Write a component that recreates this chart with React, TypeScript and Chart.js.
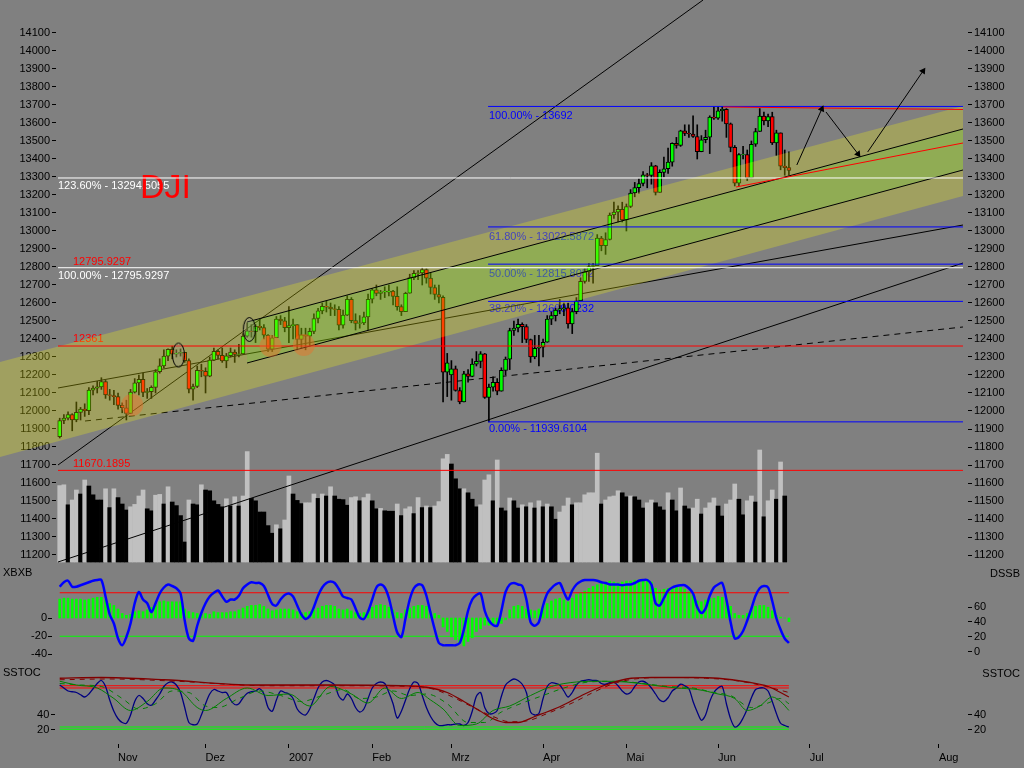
import React, { useEffect, useRef } from 'react';
import { Chart, registerables } from 'chart.js';
Chart.register(...registerables);

// ---------- axis ranges (index units / value units) ----------
const X_MIN = -14.33, X_MAX = 217.98;
const P_MIN = 10150, P_MAX = 14283.3;
const PR_MIN = 11138.9;
const V_MIN = -455, V_MAX = 1405;
const XB_MIN = -140, XB_MAX = 686.7;
const DSR_MIN = -10.67, DSR_MAX = 114.67;
const SS_MIN = 1.33, SS_MAX = 993.3, SSR_MAX = 113.33;
const PANEL_WEIGHTS = [566, 94, 84];

// ---------- data ----------
const MONTH_TICKS = [14, 35, 55, 75, 94, 116, 136, 158, 180, 211];
const MONTH_LABELS = ['Nov', 'Dez', '2007', 'Feb', 'Mrz', 'Apr', 'Mai', 'Jun', 'Jul', 'Aug'];
const PRICE_TICKS = [11200, 11300, 11400, 11500, 11600, 11700, 11800, 11900, 12000, 12100, 12200, 12300, 12400, 12500, 12600, 12700, 12800, 12900, 13000, 13100, 13200, 13300, 13400, 13500, 13600, 13700, 13800, 13900, 14000, 14100];
const XBXB_TICKS = [0, -20, -40];
const DSSB_TICKS = [60, 40, 20, 0];
const SSTOC_TICKS = [40, 20];

const OPEN = [11858,11947,11960,11980,11950,11992,12011,12002,12116,12127,12134,12163,12090,12086,12080,12031,12018,11986,12105,12156,12176,12103,12108,12131,12218,12251,12305,12342,12316,12321,12326,12280,12121,12136,12226,12221,12194,12283,12331,12309,12278,12307,12328,12315,12317,12416,12445,12441,12471,12463,12421,12343,12407,12510,12501,12463,12474,12480,12398,12423,12416,12442,12514,12556,12582,12577,12567,12565,12477,12533,12621,12502,12487,12490,12523,12621,12673,12653,12661,12660,12666,12637,12580,12552,12654,12741,12765,12767,12786,12738,12686,12647,12632,12216,12200,12234,12114,12050,12207,12192,12260,12276,12318,12075,12133,12159,12110,12226,12288,12447,12461,12481,12469,12397,12300,12349,12354,12382,12510,12530,12560,12569,12573,12484,12552,12612,12720,12773,12803,12808,12961,12919,12953,13089,13105,13120,13062,13136,13211,13241,13264,13312,13309,13362,13215,13326,13346,13383,13487,13476,13556,13542,13539,13525,13441,13507,13521,13633,13627,13668,13676,13595,13465,13266,13424,13425,13295,13482,13553,13639,13612,13635,13489,13545,13360,13352];
const HIGH = [11960,11980,11995,11985,12050,12020,12040,12130,12140,12165,12185,12170,12120,12115,12100,12045,12060,12120,12180,12200,12210,12125,12140,12230,12290,12340,12345,12360,12340,12345,12326,12290,12150,12250,12260,12240,12300,12350,12340,12350,12320,12350,12340,12370,12430,12490,12480,12480,12510,12480,12425,12420,12525,12530,12520,12580,12510,12480,12460,12460,12460,12540,12570,12600,12610,12600,12590,12580,12560,12640,12630,12540,12530,12550,12650,12680,12700,12670,12690,12700,12670,12690,12590,12660,12760,12780,12780,12796,12790,12770,12700,12700,12640,12320,12280,12250,12130,12220,12230,12290,12330,12330,12320,12150,12190,12180,12240,12300,12460,12500,12510,12490,12480,12400,12420,12420,12400,12530,12550,12570,12620,12600,12600,12570,12630,12740,12790,12820,12820,12980,12970,12990,13100,13160,13140,13160,13150,13230,13270,13290,13330,13320,13380,13365,13340,13410,13460,13490,13520,13560,13590,13590,13640,13590,13530,13560,13640,13690,13690,13692,13680,13600,13475,13430,13470,13450,13500,13570,13680,13660,13650,13660,13560,13545,13450,13440];
const LOW = [11850,11930,11950,11890,11940,11950,11970,11980,12090,12100,12120,12070,12060,12035,12010,11990,11950,11986,12100,12090,12080,12070,12070,12100,12210,12240,12280,12290,12300,12305,12270,12100,12060,12130,12190,12100,12190,12280,12290,12270,12240,12300,12270,12300,12317,12410,12410,12380,12450,12400,12330,12330,12407,12480,12440,12380,12400,12340,12350,12340,12360,12430,12490,12540,12550,12530,12530,12450,12460,12530,12490,12450,12460,12480,12450,12600,12640,12620,12630,12640,12590,12560,12530,12552,12654,12730,12730,12700,12710,12650,12620,12600,12050,12080,12060,12110,12040,12050,12160,12190,12250,12240,12070,11940,12110,12090,12110,12200,12230,12420,12440,12380,12380,12270,12290,12250,12300,12382,12480,12500,12540,12530,12460,12430,12540,12612,12710,12720,12710,12808,12890,12870,12950,13070,13050,13050,13000,13130,13190,13210,13250,13240,13260,13200,13215,13300,13320,13360,13460,13470,13530,13520,13520,13400,13440,13490,13430,13620,13620,13610,13520,13440,13250,13250,13400,13280,13295,13470,13553,13590,13580,13480,13420,13340,13310,13310];
const CLOSE = [11947,11960,11980,11950,11992,12011,12002,12116,12127,12134,12163,12090,12086,12080,12031,12018,11986,12105,12156,12176,12103,12108,12131,12218,12251,12305,12342,12316,12321,12326,12280,12121,12136,12226,12221,12194,12283,12331,12309,12278,12307,12328,12315,12317,12416,12445,12441,12471,12463,12421,12343,12407,12510,12501,12463,12474,12480,12398,12423,12416,12442,12514,12556,12582,12577,12567,12565,12477,12533,12621,12502,12487,12490,12523,12621,12673,12653,12661,12666,12666,12637,12580,12552,12654,12741,12765,12767,12786,12738,12686,12647,12632,12216,12268,12234,12114,12050,12207,12192,12260,12276,12318,12075,12133,12159,12110,12226,12288,12447,12461,12481,12469,12397,12300,12348,12354,12382,12510,12530,12560,12569,12573,12484,12552,12612,12720,12773,12803,12808,12961,12919,12953,13089,13105,13120,13062,13136,13211,13241,13264,13312,13309,13362,13215,13326,13346,13383,13487,13476,13556,13542,13539,13525,13441,13507,13521,13633,13627,13668,13676,13595,13465,13266,13424,13425,13295,13482,13553,13639,13612,13635,13489,13545,13360,13352,13337];

const VOLUME = [191,193,143,155,180,170,205,190,168,155,155,183,136,183,161,145,130,138,144,165,180,133,128,167,169,145,188,150,141,116,50,155,145,143,193,180,178,153,144,138,158,140,163,140,165,276,159,153,125,125,91,72,93,83,105,215,170,154,146,148,148,170,159,170,165,188,165,157,156,142,161,163,153,161,170,153,133,134,128,127,127,145,116,133,138,121,161,136,140,136,140,151,258,269,245,208,183,183,173,157,138,143,205,218,153,255,135,128,160,153,135,143,138,148,135,153,138,145,138,107,125,140,160,143,148,148,168,173,173,272,145,155,163,165,178,173,163,165,163,155,135,148,155,148,138,130,173,155,128,185,140,133,135,157,120,135,148,160,140,115,145,155,195,157,118,153,165,150,280,113,153,180,157,250,165];
const VOLUME_SHADE = 'GGBGGBGBBBBGBGBBBGGGGBBGGBGBBBBGBBGBBBBBGBGBGGBBBBBBGBGGBBBGGGBGBGBBBBGGBGGBBGBBBGBGGBGBGBGGGGBBBGBBBGGGBGBBGBBGBGBGBGBBGGGBGGGGGGBGGGGBBGBBBGGBBBGBBGBBGGBGGGBBGGGBBGGBGBGGBGB';

const XBXB = [21,22,22,21,21,21,20,21,22,23,23,20,16,14,10,5,3,4,7,8,7,9,12,14,18,19,18,18,18,18,10,7,6,5,4,5,4,7,6,6,6,7,7,9,11,13,14,14,15,13,10,8,9,10,10,10,9,7,6,6,7,9,11,13,14,14,13,10,9,10,8,6,5,6,9,12,14,15,14,12,9,6,5,9,11,13,14,14,13,7,5,3,-10,-15,-21,-24,-28,-31,-26,-22,-15,-12,-8,-8,-6,-8,-6,-2,9,13,14,13,10,9,8,10,13,16,19,21,22,20,18,22,26,28,30,33,35,37,39,40,41,40,39,40,41,41,42,42,42,43,40,33,31,32,33,34,35,34,32,29,26,19,18,20,22,22,24,23,21,13,5,3,3,5,9,13,14,14,12,8,3,1,0,-4];
const DSSB = [87,93,95,87,87,89,91,93,95,96,96,74,50,38,18,9,20,38,65,80,70,65,53,65,78,86,90,88,85,78,42,18,15,35,52,65,74,79,82,74,67,70,70,75,85,90,93,92,92,88,76,64,62,70,76,78,74,62,50,44,48,60,75,86,92,94,92,84,74,72,70,58,46,44,54,70,86,90,86,72,48,26,20,45,70,85,90,89,75,52,30,12,9,9,9,9,12,30,55,70,76,78,55,42,36,35,55,80,90,92,90,88,70,40,35,40,62,78,85,90,92,80,70,82,90,94,96,96,96,95,93,92,90,90,90,89,90,90,92,95,96,96,90,65,62,72,82,86,88,89,89,85,78,60,52,58,75,86,90,92,70,40,18,20,28,42,58,75,85,88,86,68,45,30,18,12];
const SSTOC_FAST = [80,76,72,71,70,67,64,68,75,82,86,78,60,45,35,30,29,40,58,66,62,55,53,60,68,78,83,84,80,70,50,30,27,28,40,55,68,74,72,70,70,60,54,55,63,69,71,72,75,68,50,45,60,72,70,68,62,48,42,40,48,62,76,84,86,84,80,65,60,68,62,50,44,48,62,76,82,84,82,70,55,36,45,60,75,84,82,66,50,38,30,26,26,27,27,28,28,26,30,45,65,70,50,42,42,46,65,80,85,88,86,81,70,44,40,42,62,78,83,82,80,72,64,70,80,85,86,87,86,86,82,81,83,84,79,72,68,70,78,84,85,82,76,68,60,58,63,72,76,81,79,75,58,44,33,40,58,70,76,78,55,35,24,27,36,48,63,74,76,76,72,58,42,29,26,24];
const SSTOC_GREEN = [[0,85],[4,80],[9,76],[13,62],[17,46],[21,58],[25,76],[29,72],[33,50],[35,46],[40,62],[45,76],[50,66],[55,68],[60,52],[65,78],[70,68],[74,56],[78,76],[82,62],[86,70],[89,60],[92,48],[96,26],[100,28],[104,46],[108,52],[113,66],[118,78],[124,84],[130,85],[136,84],[142,80],[148,76],[153,74],[158,68],[162,62],[165,46],[168,52],[171,64],[173,58],[175,46]];
const SSTOC_GREEN_SIG = [[0,82],[5,80],[10,78],[15,62],[19,48],[23,55],[27,72],[31,70],[35,52],[38,50],[43,62],[48,72],[53,66],[58,58],[63,66],[68,74],[72,62],[76,64],[80,72],[84,66],[88,68],[93,55],[98,30],[102,30],[106,44],[111,56],[116,66],[121,76],[127,84],[134,85],[140,82],[146,78],[152,76],[157,70],[161,66],[166,50],[170,56],[173,62],[175,55]];
const SSTOC_SLOW = [[0,89],[10,90],[25,87],[47,80],[65,80],[82,79],[88,77],[93,70],[97,58],[101,45],[104,35],[107,30],[110,30],[114,38],[120,51],[126,68],[131,80],[136,88],[142,90],[152,90],[158,89],[165,84],[170,78],[175,64]];
const SSTOC_SLOW_SIG = [[0,87],[12,88],[28,85],[50,79],[70,79],[85,78],[90,74],[95,62],[100,48],[104,38],[108,31],[112,32],[117,42],[123,56],[128,70],[133,82],[138,88],[146,90],[155,89],[162,86],[168,80],[175,70]];

// horizontal levels
const WHITE_LEVELS = [13294.5055, 12795.9297];
const RED_LEVELS = [12361, 11670.1895];
const FIB_LEVELS = [13692, 13022.5872, 12815.8052, 12609.0232, 11939.6104];
const LEVEL_FROM = -0.41, FIB_FROM = 102.8, LEVEL_TO = 216.78;
const DSSB_BOUNDS = [79, 21];
const SSTOC_RED_BOUNDS = [79, 76];
const SSTOC_GREEN_BOUNDS = [24, 21];

// trend lines [[x1,y1],[x2,y2]]
const BAND_UPPER = [[-14.33, 12272.2], [216.78, 13694.4]];
const BAND_LOWER = [[-14.33, 11744.4], [216.78, 13194.4]];
const CHANNEL_UPPER = [[44.96, 12494.4], [216.78, 13566.7]];
const CHANNEL_LOWER = [[44.96, 12266.7], [216.78, 13338.9]];
const TREND_STEEP = [[-0.41, 11700], [154.4, 14283.3]];
const TREND_LONG = [[-0.41, 11161.1], [216.78, 12822.2]];
const TREND_MID = [[-0.41, 12127.8], [216.78, 13033.3]];
const TREND_DASHED = [[6.07, 11944.4], [216.78, 12466.7]];
const RED_TOP = [[159.2, 13688.9], [216.78, 13675]];
const RED_SUPPORT = [[162.3, 13244.4], [216.78, 13488.9]];
const ARROWS = [
  { from: [176.9, 13366.7], to: [182.9, 13677.8], angle: 24 },
  { from: [183.9, 13661.1], to: [191.6, 13427.8], angle: 143 },
  { from: [193.9, 13438.9], to: [207.2, 13888.9], angle: 34 },
];
const ELLIPSES = [[28.5, 12311], [45.5, 12453]];
const MARKS = [[17.4, 12033], [50.6, 12361], [58.6, 12367]];

const PRICE_LABELS = [
  { text: '123.60% - 13294.5055', x: -0.41, y: 13279, color: '#ffffff' },
  { text: '100.00% - 12795.9297', x: -0.41, y: 12781, color: '#ffffff' },
  { text: '12795.9297', x: 3.19, y: 12861, color: '#ff0000' },
  { text: '12361', x: 3.19, y: 12428, color: '#ff0000' },
  { text: '11670.1895', x: 3.19, y: 11739, color: '#ff0000' },
  { text: '100.00% - 13692', x: 103, y: 13672, color: '#0000ff' },
  { text: '61.80% - 13022.5872', x: 103, y: 13000, color: '#0000ff' },
  { text: '50.00% - 12815.8052', x: 103, y: 12794, color: '#0000ff' },
  { text: '38.20% - 12609.0232', x: 103, y: 12600, color: '#0000ff' },
  { text: '0.00% - 11939.6104', x: 103, y: 11933, color: '#0000ff' },
];
const TITLE = { text: 'DJI', x: 19.27, y: 13328 };

const FONT = 'Liberation Sans, Arial, sans-serif';

function pts(a: number[][]) { return a.map(([x, y]) => ({ x, y })); }

function ellipseImage() {
  const c = document.createElement('canvas');
  c.width = 15; c.height = 27;
  const g = c.getContext('2d')!;
  g.beginPath();
  g.ellipse(7.5, 13.5, 6, 12, 0, 0, Math.PI * 2);
  g.fillStyle = 'rgba(150,150,150,0.25)';
  g.fill();
  g.strokeStyle = '#000';
  g.lineWidth = 1;
  g.stroke();
  return c;
}

const labelPlugin = {
  id: 'labels',
  beforeDatasetsDraw(chart: any) {
    const ctx = chart.ctx;
    const xs = chart.scales.x, ys = chart.scales.yP;
    ctx.save();
    ctx.textAlign = 'left';
    ctx.textBaseline = 'top';
    ctx.font = `11px ${FONT}`;
    for (const l of PRICE_LABELS) {
      ctx.fillStyle = l.color;
      ctx.fillText(l.text, xs.getPixelForValue(l.x), ys.getPixelForValue(l.y));
    }
    ctx.font = `34px ${FONT}`;
    ctx.fillStyle = '#ff0000';
    ctx.fillText(TITLE.text, xs.getPixelForValue(TITLE.x), ys.getPixelForValue(TITLE.y));
    ctx.restore();
  },
  afterDraw(chart: any) {
    const ctx = chart.ctx;
    ctx.save();
    ctx.font = `11px ${FONT}`;
    ctx.fillStyle = '#000';
    ctx.textBaseline = 'top';
    ctx.textAlign = 'left';
    ctx.fillText('XBXB', 3, 567);
    ctx.fillText('SSTOC', 3, 667);
    ctx.textAlign = 'right';
    ctx.fillText('DSSB', 1020, 568);
    ctx.fillText('SSTOC', 1020, 668);
    ctx.restore();
  },
};

const zeroPad = (s: any) => { s.paddingTop = 0; s.paddingBottom = 0; s.paddingLeft = 0; s.paddingRight = 0; };
const tickFont = { family: FONT, size: 11 };

function leftLabels(min: number, max: number, ticks: number[], posX: number) {
  return {
    type: 'linear', axis: 'y', position: { x: posX }, min, max,
    afterBuildTicks: (s: any) => { s.ticks = ticks.map((v) => ({ value: v })); },
    afterFit: zeroPad,
    grid: { display: false, drawOnChartArea: false, drawTicks: false },
    border: { display: false },
    ticks: { color: '#000', font: tickFont, padding: 0, autoSkip: false, callback: (v: any) => String(v) },
  };
}
function leftMarks(min: number, max: number, ticks: number[], posX: number) {
  return {
    type: 'linear', axis: 'y', position: { x: posX }, min, max,
    afterBuildTicks: (s: any) => { s.ticks = ticks.map((v) => ({ value: v })); },
    afterFit: zeroPad,
    grid: { drawOnChartArea: false, drawTicks: true, tickLength: 4, color: '#000' },
    border: { display: false },
    ticks: { display: false },
  };
}
function rightAxis(min: number, max: number, ticks: number[], weight: number, stackWeight: number) {
  return {
    type: 'linear', axis: 'y', position: 'right', min, max, weight, stack: 'right', stackWeight,
    afterBuildTicks: (s: any) => { s.ticks = ticks.map((v) => ({ value: v })); },
    afterFit: (s: any) => { s.width = 56; zeroPad(s); },
    grid: { drawOnChartArea: false, drawTicks: true, tickLength: 4, color: '#000' },
    border: { display: false },
    ticks: { color: '#000', font: tickFont, padding: 2, autoSkip: false, callback: (v: any) => String(v) },
  };
}

function seg(data: number[][], color: string, axis: string, order: number, extra: any = {}) {
  return { type: 'line', data: pts(data), borderColor: color, borderWidth: 1, pointRadius: 0, yAxisID: axis, order, fill: false, tension: 0, ...extra };
}
function level(v: number, from: number, to: number, color: string, axis: string, order: number) {
  return seg([[from, v], [to, v]], color, axis, order);
}

export default function App() {
  const ref = useRef<HTMLCanvasElement>(null);
  useEffect(() => {
    document.body.style.margin = '0';
    document.body.style.background = '#808080';
    const ell = ellipseImage();
    const datasets: any[] = [];
    datasets.push({
      type: 'bar', data: VOLUME.map((v, i) => ({ x: i, y: v })), yAxisID: 'yV', grouped: false, barThickness: 4,
      backgroundColor: VOLUME.map((_, i) => (VOLUME_SHADE[i] === 'G' ? '#c0c0c0' : '#000000')), borderWidth: 0, order: 9,
    });
    datasets.push(seg(TREND_STEEP, '#000', 'yP', 8));
    datasets.push(seg(TREND_LONG, '#000', 'yP', 8));
    datasets.push(seg(TREND_MID, '#000', 'yP', 8));
    datasets.push(seg(TREND_DASHED, '#000', 'yP', 8, { borderDash: [6, 5] }));
    datasets.push({
      type: 'bar', data: HIGH.map((h, i) => ({ x: i, y: [LOW[i], h] })), yAxisID: 'yP', grouped: false, barThickness: 1,
      backgroundColor: '#000', borderWidth: 0, order: 7,
    });
    datasets.push({
      type: 'bar', data: OPEN.map((o, i) => ({ x: i, y: [o, CLOSE[i]] })), yAxisID: 'yP', grouped: false, barThickness: 4,
      backgroundColor: CLOSE.map((c, i) => (c >= OPEN[i] ? '#00ff00' : '#ff0000')), borderColor: '#000', borderWidth: 1, borderSkipped: false, order: 6,
    });
    datasets.push(seg(BAND_LOWER, 'rgba(0,0,0,0)', 'yP', 5, { borderWidth: 0 }));
    datasets.push(seg(BAND_UPPER, 'rgba(0,0,0,0)', 'yP', 5, { borderWidth: 0, fill: '-1', backgroundColor: 'rgba(255,255,0,0.25)' }));
    datasets.push(seg(CHANNEL_LOWER, '#000', 'yP', 4));
    datasets.push(seg(CHANNEL_UPPER, '#000', 'yP', 4, { fill: '-1', backgroundColor: 'rgba(40,255,0,0.13)' }));
    WHITE_LEVELS.forEach((v) => datasets.push(level(v, LEVEL_FROM, LEVEL_TO, '#ffffff', 'yP', 3)));
    RED_LEVELS.forEach((v) => datasets.push(level(v, LEVEL_FROM, LEVEL_TO, '#ff0000', 'yP', 3)));
    FIB_LEVELS.forEach((v) => datasets.push(level(v, FIB_FROM, LEVEL_TO, '#0000ff', 'yP', 3)));
    datasets.push(seg(RED_TOP, '#ff0000', 'yP', 2));
    datasets.push(seg(RED_SUPPORT, '#ff0000', 'yP', 2));
    ARROWS.forEach((a) => datasets.push(seg([a.from, a.to], '#000', 'yP', 1, {
      pointRadius: [0, 4], pointStyle: 'triangle', pointRotation: [0, a.angle], pointBackgroundColor: '#000', pointBorderColor: '#000', pointBorderWidth: 0,
    })));
    datasets.push({ type: 'scatter', data: pts(ELLIPSES), yAxisID: 'yP', pointStyle: ell, pointRadius: 12, order: 1 });
    datasets.push({ type: 'scatter', data: pts(MARKS), yAxisID: 'yP', pointStyle: 'circle', pointRadius: 11, backgroundColor: 'rgba(235,110,40,0.45)', borderWidth: 0, order: 1 });
    datasets.push({ type: 'bar', data: XBXB.map((v, i) => ({ x: i, y: v })), yAxisID: 'yX', grouped: false, barThickness: 2, backgroundColor: '#00ff00', borderWidth: 0, order: 3 });
    DSSB_BOUNDS.forEach((v, k) => datasets.push(level(v, 0, 175, k === 0 ? '#ff0000' : '#00ff00', 'yDR', 2)));
    datasets.push(seg(DSSB.map((v, i) => [i, v]), '#0000ff', 'yDR', 1, { borderWidth: 2.5, tension: 0.3 }));
    SSTOC_RED_BOUNDS.forEach((v) => datasets.push(level(v, 0, 175, '#ff0000', 'ySR', 2)));
    SSTOC_GREEN_BOUNDS.forEach((v) => datasets.push(level(v, 0, 175, '#00ff00', 'ySR', 2)));
    datasets.push(seg(SSTOC_SLOW, '#800000', 'ySR', 1, { cubicInterpolationMode: 'monotone', borderWidth: 1.3 }));
    datasets.push(seg(SSTOC_SLOW_SIG, '#800000', 'ySR', 1, { cubicInterpolationMode: 'monotone', borderDash: [5, 5] }));
    datasets.push(seg(SSTOC_GREEN, '#008000', 'ySR', 1, { cubicInterpolationMode: 'monotone' }));
    datasets.push(seg(SSTOC_GREEN_SIG, '#008000', 'ySR', 1, { cubicInterpolationMode: 'monotone', borderDash: [5, 5] }));
    datasets.push(seg(SSTOC_FAST.map((v, i) => [i, v]), '#000080', 'ySR', 1, { borderWidth: 1.3, tension: 0.3 }));

    const chart = new Chart(ref.current!, {
      type: 'bar',
      data: { datasets },
      plugins: [labelPlugin],
      options: {
        animation: false, responsive: false, maintainAspectRatio: false, devicePixelRatio: 1, events: [],
        layout: { padding: 0, autoPadding: false },
        plugins: { legend: { display: false }, tooltip: { enabled: false } },
        scales: {
          x: {
            type: 'linear', position: 'bottom', min: X_MIN, max: X_MAX, offset: false,
            afterBuildTicks: (s: any) => { s.ticks = MONTH_TICKS.map((v) => ({ value: v })); },
            afterFit: (s: any) => { s.height = 24; s.paddingLeft = 0; s.paddingRight = 0; },
            grid: { offset: false, drawOnChartArea: false, drawTicks: true, tickLength: 4, color: '#000' },
            border: { display: false },
            ticks: { color: '#000', font: tickFont, padding: 3, autoSkip: false, maxRotation: 0, align: 'start',
              callback: (v: any) => MONTH_LABELS[MONTH_TICKS.indexOf(v)] ?? '' },
          },
          yP: leftLabels(P_MIN, P_MAX, PRICE_TICKS, -2.33),
          yPm: leftMarks(P_MIN, P_MAX, PRICE_TICKS, -0.89),
          yX: leftLabels(XB_MIN, XB_MAX, XBXB_TICKS, -3.05),
          yXm: leftMarks(XB_MIN, XB_MAX, XBXB_TICKS, -1.85),
          yS: leftLabels(SS_MIN, SS_MAX, SSTOC_TICKS, -2.5),
          ySm: leftMarks(SS_MIN, SS_MAX, SSTOC_TICKS, -1.13),
          yPR: rightAxis(PR_MIN, P_MAX, PRICE_TICKS, 1, PANEL_WEIGHTS[0]),
          yDR: rightAxis(DSR_MIN, DSR_MAX, DSSB_TICKS, 2, PANEL_WEIGHTS[1]),
          ySR: rightAxis(SS_MIN, SSR_MAX, SSTOC_TICKS, 3, PANEL_WEIGHTS[2]),
          yV: { type: 'linear', axis: 'y', display: false, min: V_MIN, max: V_MAX },
        },
      } as any,
    } as any);
    return () => chart.destroy();
  }, []);
  return <canvas ref={ref} width={1024} height={768} style={{ display: 'block', width: '1024px', height: '768px' }} />;
}
